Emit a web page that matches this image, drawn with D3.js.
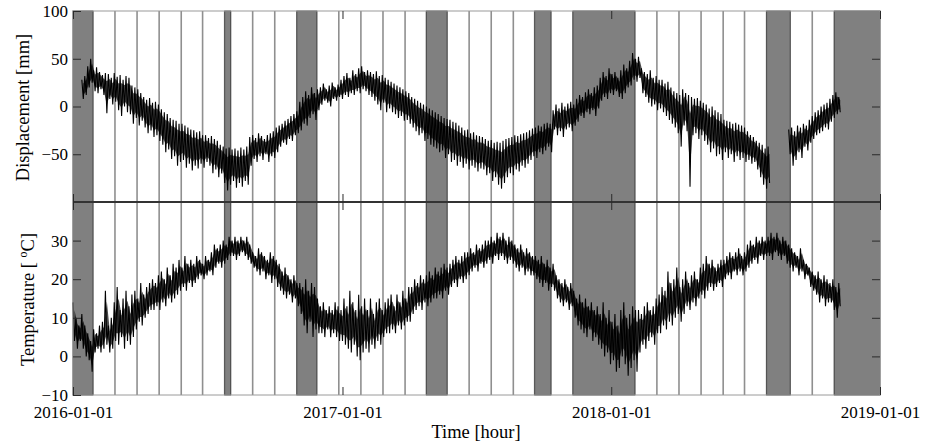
<!DOCTYPE html>
<html>
<head>
<meta charset="utf-8">
<script src="https://cdn.jsdelivr.net/npm/d3@7"></script>
<style>
  body { margin: 0; background: #fff; }
  svg { display: block; }
  text { font-family: "Liberation Serif", "Times New Roman", serif; fill: #000; }
</style>
</head>
<body>
<svg id="chart" width="935" height="446"></svg>
<script>
// ---- axis ticks ----
const xTickLabels = ["2016-01-01", "2017-01-01", "2018-01-01", "2019-01-01"];
const dispTicks = [100, 50, 0, -50];
const tempTicks = [30, 20, 10, 0, -10];

// ---- analysis window boundaries ----
const windowEdges = [
  "2016-01-28", "2016-02-27", "2016-03-28", "2016-04-27", "2016-05-27", "2016-06-25",
  "2016-07-25", "2016-08-02", "2016-09-01", "2016-10-01", "2016-10-31", "2016-11-27",
  "2016-12-27", "2017-01-26", "2017-02-25", "2017-03-27", "2017-04-25", "2017-05-23",
  "2017-06-22", "2017-07-22", "2017-08-21", "2017-09-19", "2017-10-11", "2017-11-10",
  "2018-02-02", "2018-03-04", "2018-04-03", "2018-05-03", "2018-06-02", "2018-07-01",
  "2018-07-31", "2018-09-01", "2018-10-01", "2018-10-31"
];
// windows left out of the analysis (shaded)
const excludedStart = ["2016-01-01", "2016-07-25", "2016-10-31", "2017-04-25", "2017-09-19", "2017-11-10", "2018-07-31", "2018-10-31"];
const excludedEnd   = ["2016-01-28", "2016-08-02", "2016-11-27", "2017-05-23", "2017-10-11", "2018-02-02", "2018-09-01", "2019-01-01"];

// ---- measurements: high / low within each 4-day step from 2016-01-01 ----
const firstDay = "2016-01-01";
const stepDays = 4;

const dispHigh = [
  null, null, null, 28, 32, 42, 50, 38, 41, 36, 33, 35,
  34, 30, 35, 31, 33, 28, 32, 30, 22, 20, 18, 14,
  10, 7, 9, 4, 5, 2, -3, -6, -8, -12, -14, -15, -18,
  -18, -20, -22, -24, -25, -27, -26, -30,
  -30, -33, -31, -34, -36, -40, -42, -44,
  -43, -45, -44, -46, -43, -45, -42,
  -32, -30, -33, -28, -31, -34, -30, -28, -26, -22,
  -20, -18, -15, -13, -10, -8, -5,
  5, 10, 16, 12, 20, 14, 18,
  20, 24, 18, 22, 25, 20, 23,
  28, 32, 35, 30, 38, 34, 40, 42, 36,
  38, 36, 34, 37, 32, 33, 30,
  28, 26, 24, 22, 20, 18, 16, 14,
  10, 8, 6, 4, 2, 0, -2, -4,
  -6, -8, -10, -12, -13, -14, -16, -17,
  -20, -22, -25, -24, -28, -27, -30, -31,
  -32, -34, -36, -35, -38, -37, -38, -36,
  -34, -33, -32, -30, -31, -29, -28, -27,
  -25, -23, -22, -20, -21, -18, -17, -18,
  -4, 2, -2, 4, 0, 3, 5, 2,
  8, 12, 10, 15, 18, 14, 20, 22,
  30, 36, 32, 40, 34, 36, 30,
  38, 44, 40, 48, 56, 50, 52,
  40, 36, 34, 38, 30, 32, 28,
  28, 24, 26, 20, 16, 14, 12,
  18, 14, 12, 10, 8, 9,
  6, 4, 2, -2, 0, -4, -6, -8,
  -14, -15, -16, -18, -17, -19, -20, -22,
  -26, -30, -32, -36, -38, -40, -44, -42,
  null, null, null, null, null, null,
  -24, -22, -26, -20, -22, -18, -20, -14,
  -10, -6, -4, 0, 2, 4,
  8, 12, 15, 10
];
const dispLow = [
  null, null, null, 8, 12, 20, 25, 16, 14, 18, 12, -7,
  8, 2, 5, -4, -10, 0, -6, -8, -18, -12, -20, -15,
  -22, -28, -25, -32, -30, -36, -40, -48, -45, -55, -52, -62, -58,
  -56, -64, -60, -67, -62, -65, -60, -64,
  -58, -62, -70, -66, -74, -70, -80, -88,
  -82, -78, -85, -80, -84, -78, -82,
  -62, -55, -58, -52, -56, -50, -58, -52, -54, -48,
  -42, -38, -40, -34, -36, -30, -28,
  -25, -18, -20, -12, -8, -14, -4,
  2, 6, 4, 0, 8, 6, 10,
  8, 12, 10, 14, 12, 16, 14, 18, 16,
  12, 10, 6, 2, -4, 4, -6,
  -2, -6, -8, -12, -10, -15, -14, -18,
  -22, -26, -30, -28, -36, -34, -40, -42,
  -44, -48, -46, -54, -50, -58, -56, -62,
  -58, -64, -60, -66, -62, -64, -68, -65,
  -66, -72, -70, -78, -74, -82, -86, -80,
  -74, -70, -72, -66, -68, -62, -64, -60,
  -56, -52, -54, -48, -50, -46, -42, -48,
  -24, -30, -26, -32, -24, -22, -26, -20,
  -16, -10, -12, -6, -8, -4, -10, -2,
  6, 10, 8, 14, 12, 16, 10,
  8, 14, 20, 22, 28, 26, 30,
  14, 10, 4, 0, 2, -4, -2,
  -6, -10, -14, -18, -22, -28, -42,
  -20, -26, -84, -30, -28, -34,
  -30, -36, -40, -48, -44, -52, -50, -56,
  -48, -54, -50, -58, -52, -56, -54, -58,
  -56, -60, -58, -66, -74, -82, -86, -80,
  null, null, null, null, null, null,
  -50, -62, -56, -48, -54, -42, -46, -38,
  -34, -30, -28, -26, -22, -24,
  -16, -12, -8, -6
];

const tempHigh = [
  14, 10, 8, 11, 8, 6, 4,
  7, 6, 8, 9, 17, 8, 10,
  14, 18, 12, 15, 17, 13, 16,
  17, 15, 19, 16, 18, 19, 20,
  19, 21, 22, 20, 23, 21, 24,
  23, 25, 23, 26, 24, 25,
  24, 26, 25, 24, 26, 25, 27,
  29, 28, 29, 30, 29,
  31, 30, 31, 30, 31, 30, 31, 29,
  27, 26, 28, 27, 26, 25, 27, 26, 25,
  24, 22, 23, 21, 20, 21, 19,
  19, 18, 20, 17, 19, 18, 15,
  13, 14, 12, 13, 12, 14, 13,
  12, 15, 13, 17, 14, 12, 16, 13, 15,
  12, 15, 11, 14, 15, 12, 14,
  15, 16, 13, 16, 14, 17, 15, 18,
  18, 20, 19, 21, 20, 21,
  22, 21, 23, 22, 23, 24, 23,
  24, 25, 26, 25, 26, 27,
  27, 28, 27, 29, 28, 29, 30,
  30, 31, 30, 32, 31, 32, 30, 31, 30,
  29, 28, 29, 27, 28, 27, 26,
  26, 25, 26, 24, 25, 23, 24,
  21, 20, 19, 20, 18, 19,
  17, 15, 16, 14, 15, 13, 14, 12,
  13, 11, 14, 10, 12, 9, 11, 8,
  12, 14, 10, 11, 13, 12,
  12, 11, 13, 14, 12, 13, 15,
  16, 18, 17, 22, 19, 20, 23, 18,
  20, 22, 19, 21, 22, 20,
  23, 24, 26, 24, 25, 23, 24, 25,
  25, 26, 27, 26, 27, 28, 26, 27,
  29, 30, 29, 31, 30, 31, 30,
  31, 32, 31, 32, 30, 31, 30,
  29, 28, 27, 26, 28, 25, 24,
  23, 22, 21, 22, 20, 21, 20,
  19, 20, 18, 19
];
const tempLow = [
  4, 2, 4, 2, 0, -1, -4,
  1, 2, 1, 2, 3, 1, 2,
  4, 3, 5, 2, 4, 3, 5,
  7, 9, 8, 10, 11, 12, 12,
  13, 12, 14, 13, 15, 14, 15,
  16, 17, 18, 17, 19, 18,
  19, 20, 21, 20, 21, 22, 21,
  23, 24, 23, 24, 25,
  26, 26, 25, 26, 27, 26, 25, 24,
  23, 22, 21, 22, 20, 21, 19, 20, 18,
  17, 16, 15, 16, 14, 15, 13,
  11, 8, 6, 9, 5, 7, 6,
  6, 5, 7, 5, 6, 5, 4,
  4, 3, 2, 1, 3, 0, -1, 1, 2,
  1, 3, 2, 4, 3, 5, 6,
  6, 7, 6, 8, 7, 8, 9, 9,
  11, 12, 13, 12, 14, 13,
  14, 15, 15, 16, 15, 17, 16,
  18, 19, 18, 20, 19, 20,
  21, 22, 23, 22, 24, 23, 24,
  25, 24, 26, 25, 26, 25, 24, 25, 24,
  23, 22, 23, 21, 22, 21, 21,
  20, 19, 18, 19, 17, 18, 17,
  15, 14, 13, 14, 12, 13,
  10, 8, 7, 6, 5, 7, 4, 5,
  3, 2, 0, 1, -2, -1, -4, -3,
  0, -2, -5, -3, -1, -4,
  1, 3, 2, 4, 5, 3, 6,
  6, 8, 7, 9, 8, 10, 11, 9,
  11, 13, 12, 14, 13, 15,
  16, 15, 17, 18, 17, 18, 19, 18,
  20, 21, 20, 22, 21, 22, 21, 22,
  23, 24, 25, 24, 26, 25, 26,
  26, 25, 27, 26, 25, 26, 24,
  23, 22, 23, 21, 22, 20, 21,
  18, 17, 16, 14, 15, 13, 14,
  14, 12, 10, 13
];

// ---- layout ----
const plot = { left: 73, right: 880, top: 11, mid: 202, bottom: 395 };
const parse = d3.utcParse("%Y-%m-%d");
const svg = d3.select("#chart");

const x = d3.scaleUtc()
  .domain([parse(xTickLabels[0]), parse(xTickLabels[xTickLabels.length - 1])])
  .range([plot.left, plot.right]);
const yDisp = d3.scaleLinear().domain([-100, 100]).range([plot.mid, plot.top]);
const yTemp = d3.scaleLinear().domain([-10, 40]).range([plot.bottom, plot.mid]);

// window boundaries
svg.append("g").selectAll("line").data(windowEdges).join("line")
  .attr("x1", d => x(parse(d))).attr("x2", d => x(parse(d)))
  .attr("y1", plot.top).attr("y2", plot.bottom)
  .attr("stroke", "#8f8f8f").attr("stroke-width", 1.6);

// excluded windows
svg.append("g").selectAll("rect").data(d3.zip(excludedStart, excludedEnd)).join("rect")
  .attr("x", d => x(parse(d[0])))
  .attr("width", d => x(parse(d[1])) - x(parse(d[0])))
  .attr("y", plot.top).attr("height", plot.bottom - plot.top)
  .attr("fill", "#808080").attr("stroke", "#4f4f4f").attr("stroke-width", 1);

// measurement traces: the band between highs and lows, with a line
// alternating between the high and the low of each step on top
function stepRows(high, low) {
  const start = parse(firstDay);
  return high.map((h, k) => ({
    t0: d3.utcDay.offset(start, k * stepDays),
    t1: d3.utcDay.offset(start, k * stepDays + stepDays / 2),
    hi: h,
    lo: low[k]
  }));
}
function drawTrace(high, low, y) {
  const rows = stepRows(high, low);
  const band = d3.area()
    .defined(d => d.hi != null)
    .x(d => x(d.t1))
    .y0(d => y(d.lo + (d.hi - d.lo) * 0.2))
    .y1(d => y(d.hi - (d.hi - d.lo) * 0.2))
    .curve(d3.curveLinear);
  svg.append("path")
    .attr("d", band(rows))
    .attr("fill", "#000")
    .attr("fill-opacity", 0.7);
  const pts = rows.flatMap(d => [[d.t0, d.hi], [d.t1, d.lo]]);
  const line = d3.line()
    .defined(d => d[1] != null)
    .x(d => x(d[0]))
    .y(d => y(d[1]));
  svg.append("path")
    .attr("d", line(pts))
    .attr("fill", "none")
    .attr("stroke", "#000")
    .attr("stroke-width", 1.1);
}
drawTrace(dispHigh, dispLow, yDisp);
drawTrace(tempHigh, tempLow, yTemp);

// frame
svg.append("rect")
  .attr("x", plot.left).attr("y", plot.top)
  .attr("width", plot.right - plot.left).attr("height", plot.bottom - plot.top)
  .attr("fill", "none").attr("stroke", "#9a9a9a").attr("stroke-width", 1);
svg.append("line")
  .attr("x1", plot.left).attr("x2", plot.right)
  .attr("y1", plot.mid).attr("y2", plot.mid)
  .attr("stroke", "#333").attr("stroke-width", 2);

// axes (ticks point inward)
const xTickDates = xTickLabels.map(parse);
function styleAxis(g) {
  g.select(".domain").remove();
  g.selectAll(".tick line").attr("stroke", "#2a2a2a");
  g.selectAll("text").attr("font-size", "17px").attr("fill", "#000")
    .attr("font-family", '"Liberation Serif", "Times New Roman", serif');
}
const tickLen = 8;
// top panel
svg.append("g").attr("transform", `translate(${plot.left},0)`)
  .call(d3.axisLeft(yDisp).tickValues(dispTicks).tickSize(-tickLen).tickPadding(5)).call(styleAxis);
svg.append("g").attr("transform", `translate(${plot.right},0)`)
  .call(d3.axisRight(yDisp).tickValues([50, 0, -50]).tickSize(-tickLen).tickFormat("")).call(styleAxis);
svg.append("g").attr("transform", `translate(0,${plot.top})`)
  .call(d3.axisTop(x).tickValues(xTickDates).tickSize(-tickLen).tickFormat("")).call(styleAxis);
svg.append("g").attr("transform", `translate(0,${plot.mid})`)
  .call(d3.axisBottom(x).tickValues(xTickDates).tickSize(-tickLen).tickFormat("")).call(styleAxis);
// bottom panel
svg.append("g").attr("transform", `translate(${plot.left},0)`)
  .call(d3.axisLeft(yTemp).tickValues(tempTicks).tickSize(-tickLen).tickPadding(5)).call(styleAxis);
svg.append("g").attr("transform", `translate(${plot.right},0)`)
  .call(d3.axisRight(yTemp).tickValues([30, 20, 10, 0]).tickSize(-tickLen).tickFormat("")).call(styleAxis);
svg.append("g").attr("transform", `translate(0,${plot.mid})`)
  .call(d3.axisTop(x).tickValues(xTickDates).tickSize(-tickLen).tickFormat("")).call(styleAxis);
svg.append("g").attr("transform", `translate(0,${plot.bottom})`)
  .call(d3.axisBottom(x).tickValues(xTickDates).tickSize(-tickLen).tickPadding(11)
    .tickFormat(d3.utcFormat("%Y-%m-%d"))).call(styleAxis);

// axis titles
svg.append("text")
  .attr("transform", `translate(29,${(plot.top + plot.mid) / 2 + 1}) rotate(-90)`)
  .attr("text-anchor", "middle").attr("font-size", "18.5px")
  .text("Displacement [mm]");
const tTitle = svg.append("text")
  .attr("transform", `translate(34,${(plot.mid + plot.bottom) / 2 + 1}) rotate(-90)`)
  .attr("text-anchor", "middle").attr("font-size", "18.5px");
tTitle.append("tspan").text("Temperature [ ");
tTitle.append("tspan").attr("font-size", "12px").attr("dy", "-7").text("o");
tTitle.append("tspan").attr("dy", "7").text("C]");
svg.append("text")
  .attr("x", (plot.left + plot.right) / 2 - 0.5).attr("y", 438)
  .attr("text-anchor", "middle").attr("font-size", "18.5px")
  .text("Time [hour]");
</script>
</body>
</html>
